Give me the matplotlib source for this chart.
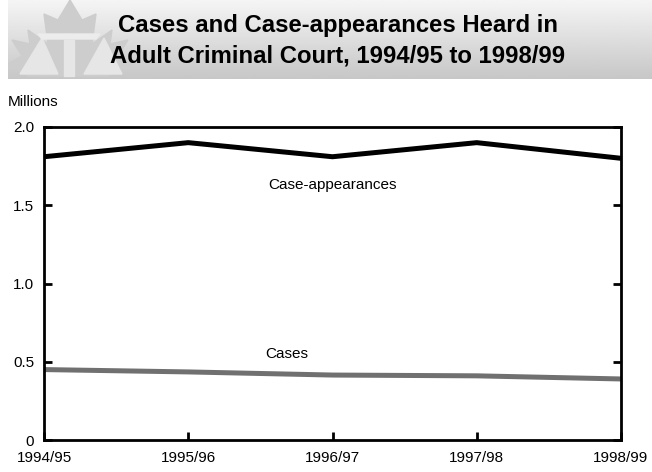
import numpy as np
import matplotlib
matplotlib.use("Agg")
import matplotlib.pyplot as plt
from matplotlib.patches import Polygon

plt.rcParams['font.family'] = ['Liberation Sans', 'DejaVu Sans']

years = ["1994/95", "1995/96", "1996/97", "1997/98", "1998/99"]
case_appearances = [1.81, 1.90, 1.81, 1.90, 1.80]
cases = [0.45, 0.435, 0.415, 0.41, 0.39]
y_ticks = [0, 0.5, 1.0, 1.5, 2.0]
y_labels = ["0", "0.5", "1.0", "1.5", "2.0"]

fig = plt.figure(figsize=(6.52, 4.72), dpi=100)

# Banner with vertical grey gradient
ban = fig.add_axes([8 / 652, 1 - 79 / 472, 1 - 8 / 652, 79 / 472])
grad = np.linspace(0.96, 0.78, 100).reshape(-1, 1)
ban.set_xlim(0, 644)
ban.set_ylim(79, 0)
ban.imshow(grad, cmap="gray", vmin=0, vmax=1, aspect="auto", extent=[0, 644, 79, 0])
ban.axis("off")

# Faint maple leaf logo
leaf = [(62, 0), (74, 20), (88, 14), (84, 44), (104, 30), (102, 44), (120, 40),
        (110, 56), (124, 64), (100, 76), (60, 76), (20, 76), (0, 64),
        (14, 56), (4, 40), (22, 44), (20, 30), (40, 44), (36, 14), (50, 20)]
ban.add_patch(Polygon(leaf, closed=True, color="#cdcdcd", zorder=2))
ban.add_patch(Polygon([(12, 74), (34, 38), (50, 74)], color="#e6e6e6", zorder=3))
ban.add_patch(Polygon([(76, 74), (96, 38), (114, 74)], color="#e6e6e6", zorder=3))
ban.add_patch(Polygon([(56, 40), (66, 40), (66, 76), (56, 76)], color="#e6e6e6", zorder=3))
ban.add_patch(Polygon([(30, 34), (92, 34), (88, 39), (34, 39)], color="#ececec", zorder=3))

fig.text(338 / 652, 1 - 41 / 472,
         "Cases and Case-appearances Heard in\nAdult Criminal Court, 1994/95 to 1998/99",
         ha="center", va="center", fontsize=17.2, fontweight="bold", linespacing=1.4)

ax = fig.add_axes([44 / 652, 1 - 440 / 472, 577 / 652, 313 / 472])
x = np.arange(len(years))
ax.plot(x, case_appearances, color="black", lw=3.6, solid_joinstyle="miter")
ax.plot(x, cases, color="#707070", lw=3.6)

ax.set_xlim(0, len(years) - 1)
ax.set_ylim(0, 2.0)
ax.set_xticks(x)
ax.set_xticklabels(years, fontsize=11)
ax.set_yticks(y_ticks)
ax.set_yticklabels(y_labels, fontsize=11)
ax.tick_params(axis="x", direction="in", length=6, width=2, pad=8)
ax.tick_params(axis="y", direction="in", length=6, width=2, right=True, pad=7)
for s in ax.spines.values():
    s.set_linewidth(2)

ax.text(2.0, 1.63, "Case-appearances", ha="center", va="center", fontsize=11)
ax.text(1.68, 0.55, "Cases", ha="center", va="center", fontsize=11)
fig.text(8 / 652, 1 - 102 / 472, "Millions", ha="left", va="center", fontsize=11)

fig.savefig("out.png", dpi=100)
